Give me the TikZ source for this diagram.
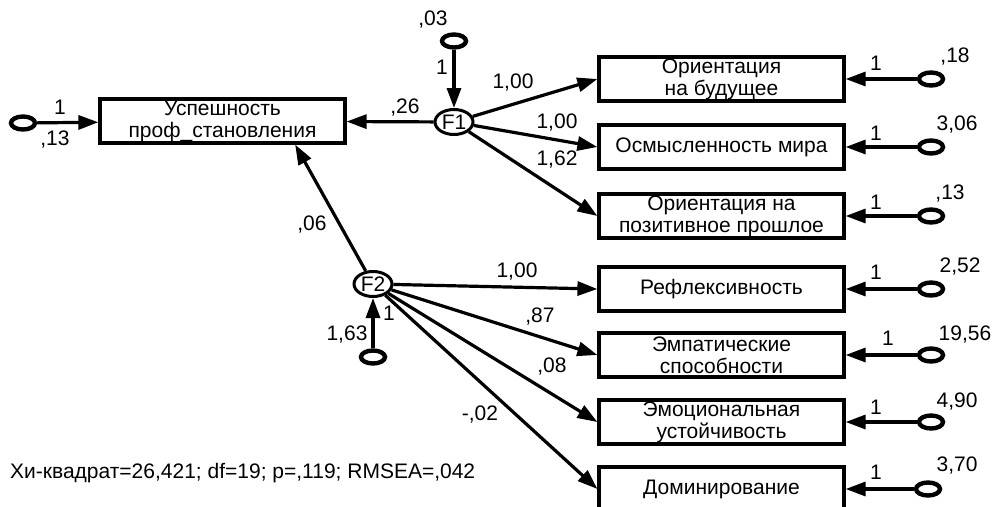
\documentclass[tikz,border=0pt]{standalone}
\usepackage{fontspec}
\setmainfont{Liberation Sans}
\usetikzlibrary{arrows.meta,shapes.geometric}

\newcommand{\boxX}{721.5}
\newcommand{\errX}{931}
\newcommand{\oneX}{876}

\begin{document}
\begin{tikzpicture}[x=1pt,y=-1pt,
    every node/.style={font=\fontsize{21}{22}\selectfont,inner sep=0pt},
    obs/.style={draw,line width=3.2pt,minimum width=245pt,minimum height=44pt,align=center},
    lat/.style={draw,ellipse,line width=3pt,minimum width=38pt,minimum height=25pt,font=\fontsize{21}{22}\selectfont},
    err/.style={draw,ellipse,line width=4.4pt,minimum width=24pt,minimum height=13pt},
    reg/.style={line width=3.2pt,-{Triangle[length=20pt,width=14pt]}}]
    \useasboundingbox (0,0) rectangle (993,506);
    \node[obs] (succ) at (222.5,121) {Успешность\\проф\_становления};
    \node[obs] (future) at (\boxX,79) {Ориентация\\на будущее};
    \node[obs] (meaning) at (\boxX,147) {Осмысленность мира};
    \node[obs] (past) at (\boxX,216) {Ориентация на\\позитивное прошлое};
    \node[obs] (refl) at (\boxX,289) {Рефлексивность};
    \node[obs] (empat) at (\boxX,355) {Эмпатические\\способности};
    \node[obs] (emot) at (\boxX,422) {Эмоциональная\\устойчивость};
    \node[obs] (domin) at (\boxX,489) {Доминирование};
    \node[lat] (F1) at (454,122) {F1};
    \node[lat] (F2) at (373,284) {F2};
    \node[err] (e1) at (23,123) {};
    \node[err] (e10) at (454,41) {};
    \node[err] (e11) at (373,357) {};
    \node[err] (e2) at (\errX,79) {};
    \node[err] (e3) at (\errX,147) {};
    \node[err] (e4) at (\errX,216) {};
    \node[err] (e5) at (\errX,289) {};
    \node[err] (e6) at (\errX,355) {};
    \node[err] (e7) at (\errX,422) {};
    \node[err] (e8) at (928,489) {};
    \draw[reg] (e1) -- (succ);
    \draw[reg] (F1) -- (succ);
    \draw[reg] (F2) -- (succ.-18.4);
    \draw[reg] (e10) -- (F1);
    \draw[reg] (e11) -- (F2);
    \foreach \t in {future,meaning,past}
      \draw[reg] (F1) -- (\t.west);
    \foreach \t in {refl,empat,emot,domin}
      \draw[reg] (F2) -- (\t.west);
    \foreach \e/\t in {e2/future,e3/meaning,e4/past,e5/refl,e6/empat,e7/emot,e8/domin}
      \draw[reg] (\e) -- (\t);
    \node (l_e1) at (60,107) {1};
    \node (v_e1) at (55,140) {,13};
    \node (v_e10) at (433,20) {,03};
    \node (l_e10) at (442,67) {1};
    \node (w_succ) at (405,108) {,26};
    \node (w_future) at (513,83) {1,00};
    \node (w_meaning) at (557,123) {1,00};
    \node (w_past) at (557,160) {1,62};
    \node (w_f2succ) at (312,225) {,06};
    \node (w_refl) at (517,272) {1,00};
    \node (w_empat) at (540,317) {,87};
    \node (w_emot) at (552,367) {,08};
    \node (w_domin) at (480,415) {-,02};
    \node (v_e11) at (347,335) {1,63};
    \node (l_e11) at (389,313) {1};
    \node (l_e2) at (\oneX,63) {1};
    \node (l_e3) at (\oneX,133) {1};
    \node (l_e4) at (\oneX,202) {1};
    \node (l_e5) at (\oneX,272) {1};
    \node (l_e6) at (888,338) {1};
    \node (l_e7) at (\oneX,407) {1};
    \node (l_e8) at (\oneX,472) {1};
    \node (v_e2) at (955,57) {,18};
    \node (v_e3) at (957,125) {3,06};
    \node (v_e4) at (950,194) {,13};
    \node (v_e5) at (960,267) {2,52};
    \node (v_e6) at (965,335) {19,56};
    \node (v_e7) at (957,402) {4,90};
    \node (v_e8) at (957,466) {3,70};
    \node[anchor=west] (chi) at (10,473) {Хи-квадрат=26,421; df=19; p=,119; RMSEA=,042};
  \end{tikzpicture}
\end{document}
